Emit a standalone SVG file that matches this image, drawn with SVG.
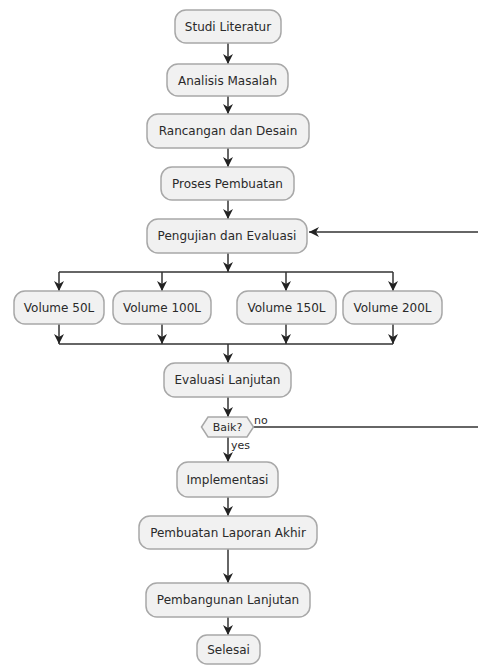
<svg xmlns="http://www.w3.org/2000/svg" width="478" height="666" viewBox="0 0 478 666">
<style>
.box{fill:#F1F1F1;stroke:#A8A8A8;stroke-width:1.5}
.lbl{font-family:"DejaVu Sans",sans-serif;font-size:12px;fill:#2a2a2a;text-anchor:middle}
.sm{font-family:"DejaVu Sans",sans-serif;font-size:11px;fill:#2a2a2a}
.ln{stroke:#333;stroke-width:1.5;fill:none}
</style>
<defs>
<marker id="ah" viewBox="0 0 10 10" refX="10" refY="5" markerWidth="10" markerHeight="10" markerUnits="userSpaceOnUse" orient="auto">
<path d="M0,0 L10,5 L0,10 L3,5 Z" fill="#222"/>
</marker>
</defs>
<rect width="478" height="666" fill="#fff"/>
<g id="connectors">
<line class="ln" x1="228" y1="43" x2="228" y2="64" marker-end="url(#ah)"/>
<line class="ln" x1="228" y1="96" x2="228" y2="114" marker-end="url(#ah)"/>
<line class="ln" x1="228" y1="148" x2="228" y2="167" marker-end="url(#ah)"/>
<line class="ln" x1="228" y1="200" x2="228" y2="219" marker-end="url(#ah)"/>
<line class="ln" x1="228" y1="253" x2="228" y2="272" marker-end="url(#ah)"/>
<line class="ln" x1="59" y1="272" x2="393" y2="272"/>
<line class="ln" x1="59" y1="272" x2="59" y2="291" marker-end="url(#ah)"/>
<line class="ln" x1="162" y1="272" x2="162" y2="291" marker-end="url(#ah)"/>
<line class="ln" x1="286" y1="272" x2="286" y2="291" marker-end="url(#ah)"/>
<line class="ln" x1="393" y1="272" x2="393" y2="291" marker-end="url(#ah)"/>
<line class="ln" x1="59" y1="324" x2="59" y2="344" marker-end="url(#ah)"/>
<line class="ln" x1="162" y1="324" x2="162" y2="344" marker-end="url(#ah)"/>
<line class="ln" x1="286" y1="324" x2="286" y2="344" marker-end="url(#ah)"/>
<line class="ln" x1="393" y1="324" x2="393" y2="344" marker-end="url(#ah)"/>
<line class="ln" x1="59" y1="344" x2="393" y2="344"/>
<line class="ln" x1="228" y1="344" x2="228" y2="363" marker-end="url(#ah)"/>
<line class="ln" x1="228" y1="397" x2="228" y2="417" marker-end="url(#ah)"/>
<line class="ln" x1="228" y1="437" x2="228" y2="462" marker-end="url(#ah)"/>
<line class="ln" x1="228" y1="497" x2="228" y2="516" marker-end="url(#ah)"/>
<line class="ln" x1="228" y1="549" x2="228" y2="583" marker-end="url(#ah)"/>
<line class="ln" x1="228" y1="617" x2="228" y2="635" marker-end="url(#ah)"/>
<line class="ln" x1="478" y1="232" x2="309" y2="232" marker-end="url(#ah)"/>
<line class="ln" x1="253" y1="427" x2="478" y2="427"/>
<text class="sm" x="254" y="424">no</text>
<text class="sm" x="231" y="449">yes</text>
</g>
<g id="n1"><rect class="box" x="175" y="10" width="106" height="33" rx="11"/><text class="lbl" x="228" y="31">Studi Literatur</text></g>
<g id="n2"><rect class="box" x="167" y="64" width="121" height="32" rx="11"/><text class="lbl" x="227.5" y="84.5">Analisis Masalah</text></g>
<g id="n3"><rect class="box" x="147" y="114" width="162" height="34" rx="11"/><text class="lbl" x="228" y="135">Rancangan dan Desain</text></g>
<g id="n4"><rect class="box" x="161" y="167" width="133" height="33" rx="11"/><text class="lbl" x="227.5" y="188">Proses Pembuatan</text></g>
<g id="n5"><rect class="box" x="147" y="219" width="160" height="34" rx="11"/><text class="lbl" x="227" y="240">Pengujian dan Evaluasi</text></g>
<g id="n6"><rect class="box" x="14" y="291" width="90" height="33" rx="11"/><text class="lbl" x="59" y="312">Volume 50L</text></g>
<g id="n7"><rect class="box" x="113" y="291" width="98" height="33" rx="11"/><text class="lbl" x="162" y="312">Volume 100L</text></g>
<g id="n8"><rect class="box" x="237" y="291" width="99" height="33" rx="11"/><text class="lbl" x="286.5" y="312">Volume 150L</text></g>
<g id="n9"><rect class="box" x="343" y="291" width="99" height="33" rx="11"/><text class="lbl" x="392.5" y="312">Volume 200L</text></g>
<g id="n10"><rect class="box" x="164" y="363" width="127" height="34" rx="11"/><text class="lbl" x="227.5" y="384">Evaluasi Lanjutan</text></g>
<g id="n11"><polygon class="box" points="201.5,427 208,417 247,417 253.5,427 247,437 208,437"/><text class="lbl" x="227.5" y="431" style="font-size:11px">Baik?</text></g>
<g id="n12"><rect class="box" x="177" y="462" width="101" height="35" rx="11"/><text class="lbl" x="227.5" y="484">Implementasi</text></g>
<g id="n13"><rect class="box" x="139" y="516" width="178" height="33" rx="11"/><text class="lbl" x="228" y="537">Pembuatan Laporan Akhir</text></g>
<g id="n14"><rect class="box" x="146" y="583" width="164" height="34" rx="11"/><text class="lbl" x="228" y="604">Pembangunan Lanjutan</text></g>
<g id="n15"><rect class="box" x="197" y="635" width="63" height="29" rx="10"/><text class="lbl" x="228.5" y="654">Selesai</text></g>
</svg>
